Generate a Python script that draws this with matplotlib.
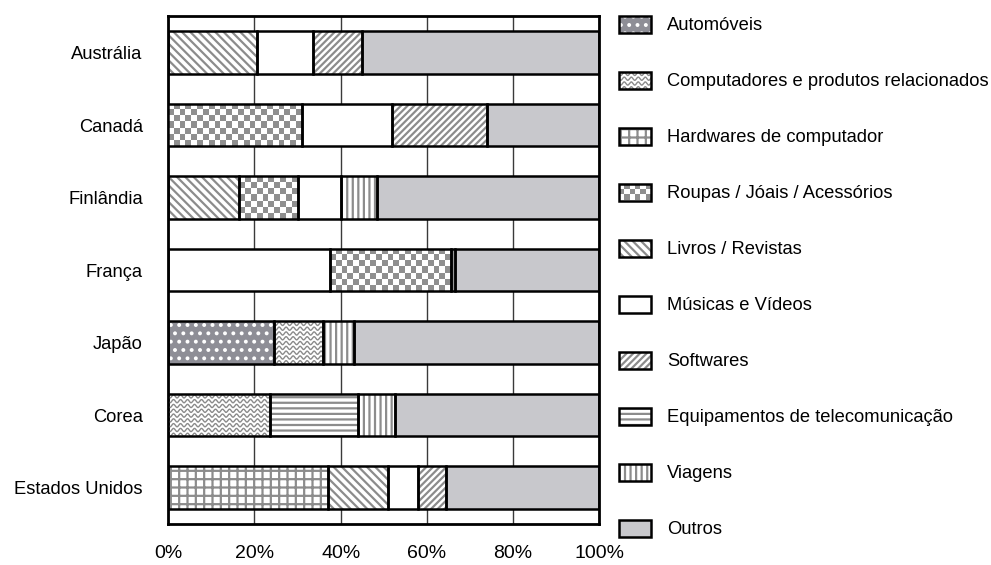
import numpy as np
import matplotlib.pyplot as plt
from matplotlib.patches import Rectangle
from matplotlib.colors import ListedColormap

plt.rcParams['font.family'] = ['Liberation Sans', 'DejaVu Sans']
plt.rcParams['hatch.linewidth'] = 1.6

GRAY = '#8c8c8c'
BACKSLASH = chr(92)

countries = ["Austrália", "Canadá", "Finlândia", "França", "Japão", "Corea", "Estados Unidos"]

categories = [
    "Automóveis",
    "Computadores e produtos relacionados",
    "Hardwares de computador",
    "Roupas / Jóais / Acessórios",
    "Livros / Revistas",
    "Músicas e Vídeos",
    "Softwares",
    "Equipamentos de telecomunicação",
    "Viagens",
    "Outros",
]

# segments of each bar, left to right (% of sales)
segment_cats = [
    ["Livros / Revistas", "Músicas e Vídeos", "Softwares", "Outros"],
    ["Roupas / Jóais / Acessórios", "Músicas e Vídeos", "Softwares", "Outros"],
    ["Livros / Revistas", "Roupas / Jóais / Acessórios", "Músicas e Vídeos", "Viagens", "Outros"],
    ["Músicas e Vídeos", "Roupas / Jóais / Acessórios", "Viagens", "Outros"],
    ["Automóveis", "Computadores e produtos relacionados", "Viagens", "Outros"],
    ["Computadores e produtos relacionados", "Equipamentos de telecomunicação", "Viagens", "Outros"],
    ["Hardwares de computador", "Livros / Revistas", "Músicas e Vídeos", "Softwares", "Outros"],
]
segment_vals = [
    [20.5, 13.0, 11.5, 55.0],
    [31.0, 21.0, 22.0, 26.0],
    [16.5, 13.5, 10.0, 8.5, 51.5],
    [37.5, 28.0, 1.0, 33.5],
    [24.5, 11.5, 7.0, 57.0],
    [23.5, 20.5, 8.5, 47.5],
    [37.0, 14.0, 7.0, 6.5, 35.5],
]

xticks = [0, 20, 40, 60, 80, 100]
xticklabels = ["0%", "20%", "40%", "60%", "80%", "100%"]

# fill / hatch / texture for every category
STYLE = {
    "Automóveis": dict(fc='#8e8e96', hatch='..', hc='white'),
    "Computadores e produtos relacionados": dict(fc='white', texture='wave'),
    "Hardwares de computador": dict(fc='white', hatch='++', hc=GRAY),
    "Roupas / Jóais / Acessórios": dict(fc='white', texture='checker'),
    "Livros / Revistas": dict(fc='white', hatch=BACKSLASH * 4, hc=GRAY),
    "Músicas e Vídeos": dict(fc='white'),
    "Softwares": dict(fc='white', hatch='/////', hc=GRAY),
    "Equipamentos de telecomunicação": dict(fc='white', hatch='---', hc=GRAY),
    "Viagens": dict(fc='white', hatch='|||', hc=GRAY),
    "Outros": dict(fc='#c8c8cc'),
}


def add_texture(axis, rect, kind, ux, uy):
    # ux, uy: data units per pixel
    if kind is None:
        return
    x0, y0 = rect.get_x(), rect.get_y()
    w, h = rect.get_width(), rect.get_height()
    if kind == 'checker':
        nx = max(1, int(round(w / ux / 5.7)))
        ny = max(1, int(round(h / uy / 5.7)))
        board = np.add.outer(np.arange(ny), np.arange(nx)) % 2
        im = axis.imshow(board, cmap=ListedColormap(['white', '#8f8f8f']),
                         extent=(x0, x0 + w, y0 + h, y0), aspect='auto',
                         interpolation='nearest', zorder=3)
        im.set_clip_path(rect)
    elif kind == 'wave':
        xs = np.linspace(x0, x0 + w, 400)
        step = 4.8 * uy
        for yc in np.arange(y0 + step / 2, y0 + h, step):
            ys = yc + 1.6 * uy * np.sin(2 * np.pi * (xs - x0) / (7 * ux))
            line, = axis.plot(xs, ys, color='#8a8a8a', lw=1.0, zorder=3)
            line.set_clip_path(rect)


fig = plt.figure(figsize=(9.91, 5.65), dpi=100)
ax = fig.add_axes([0.1698, 0.0730, 0.4349, 0.8982])
ax.set_xlim(0, 100)
ax.set_ylim(6.5, -0.5)

# data units per pixel in the main axes
ux = 100 / (0.4349 * 991)
uy = 7 / (0.8982 * 565)

BAR_H = 0.58
for i, (cats, vals) in enumerate(zip(segment_cats, segment_vals)):
    left = 0
    for cat, v in zip(cats, vals):
        st = STYLE[cat]
        bars = ax.barh(i, v, left=left, height=BAR_H, color=st['fc'],
                       edgecolor=st.get('hc', 'none'), hatch=st.get('hatch'),
                       linewidth=0, zorder=2)
        add_texture(ax, bars[0], st.get('texture'), ux, uy)
        ax.barh(i, v, left=left, height=BAR_H, fill=False,
                edgecolor='black', linewidth=1.8, zorder=4)
        left += v

ax.set_xlim(0, 100)
ax.set_ylim(6.5, -0.5)
ax.set_xticks(xticks)
ax.set_xticklabels(xticklabels)
ax.set_yticks(range(len(countries)))
ax.set_yticklabels(countries)
ax.tick_params(axis='x', length=0, labelsize=14, pad=15)
ax.tick_params(axis='y', length=0, labelsize=13.2, pad=18.4)
ax.set_axisbelow(True)
ax.grid(axis='x', color='#3a3a3a', lw=1)
for sp in ax.spines.values():
    sp.set_linewidth(2)
    sp.set_color('black')

# legend drawn in pixel coordinates on an overlay axes
lax = fig.add_axes([0, 0, 1, 1])
lax.set_xlim(0, 991)
lax.set_ylim(565, 0)
lax.axis('off')
lax.patch.set_visible(False)
for k, cat in enumerate(categories):
    st = STYLE[cat]
    yc = 24 + 56 * k
    box = Rectangle((619, yc - 8.5), 32, 17, facecolor=st['fc'],
                    edgecolor=st.get('hc', 'none'), hatch=st.get('hatch'),
                    linewidth=0, zorder=2)
    lax.add_patch(box)
    add_texture(lax, box, st.get('texture'), 1, 1)
    lax.add_patch(Rectangle((619, yc - 8.5), 32, 17, fill=False,
                            edgecolor='black', linewidth=1.8, zorder=4))
    lax.text(667, yc + 1, cat, fontsize=13.2, va='center', ha='left')

fig.savefig('out.png', dpi=100)
